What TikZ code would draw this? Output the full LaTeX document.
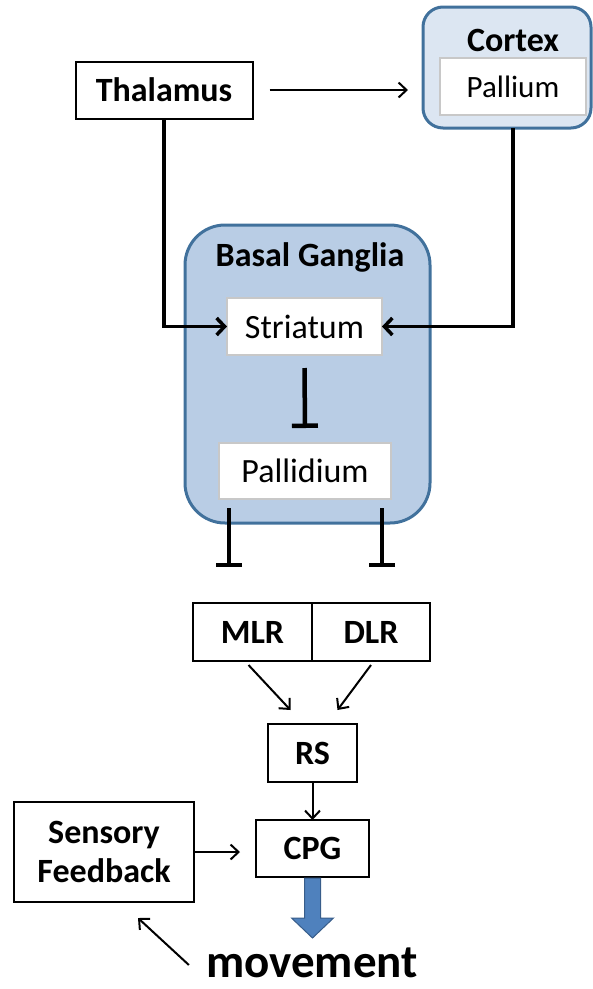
\documentclass[tikz,border=0pt]{standalone}
\usepackage{fontspec}
\setmainfont{Carlito}
\usetikzlibrary{arrows.meta,positioning,calc}

\definecolor{gangliafill}{RGB}{185,205,229}
\definecolor{cortexfill}{RGB}{220,230,242}
\definecolor{frameblue}{RGB}{65,113,156}
\definecolor{innergray}{RGB}{200,200,200}
\definecolor{moveblue}{RGB}{79,129,189}
\definecolor{moveedge}{RGB}{56,93,138}

\tikzset{
  labelfont/.style={font=\fontsize{34}{39}\selectfont\bfseries},
  plainbox/.style={draw, line width=2pt, fill=white, outer sep=0pt, inner sep=0pt, labelfont},
  regionbox/.style={draw=frameblue, line width=3pt, outer sep=0pt},
  innerbox/.style={draw=innergray, line width=1.5pt, fill=white, outer sep=0pt, inner sep=0pt, font=\fontsize{34}{39}\selectfont},
  excite/.style={line width=2pt, -{Straight Barb[length=8pt,width=15pt]}},
  feed/.style={line width=3.5pt, -{Straight Barb[length=8pt,width=17pt]}},
  inhib/.style={line width=4.5pt, -{Bar[width=26pt]}},
  bigarrow/.style={fill=moveblue, draw=moveedge, line width=1pt},
}

\begin{document}
\begin{tikzpicture}[x=1pt,y=-1pt]
\useasboundingbox (0,0) rectangle (593,989);

% top row
\node[plainbox, minimum width=177pt, minimum height=57pt] (thalamus) at (164,90) {Thalamus};
\node[regionbox, fill=cortexfill, rounded corners=20pt, minimum width=168pt, minimum height=121pt] (cortex) at (507,67.5) {};
\node[labelfont] (cortextitle) at (513,40) {Cortex};
\node[innerbox, minimum width=146pt, minimum height=57pt, font=\fontsize{31}{37}\selectfont] (pallium) at (513,86.5) {Pallium};

% basal ganglia
\node[regionbox, fill=gangliafill, rounded corners=40pt, minimum width=245pt, minimum height=298pt] (ganglia) at (307.5,374) {};
\node[labelfont] (gangliatitle) at (310,257) {Basal Ganglia};
\node[innerbox, minimum width=155pt, minimum height=57pt] (striatum) at (304.5,326.5) {Striatum};
\node[innerbox, minimum width=172pt, minimum height=56pt] (pallidium) at (305,471) {Pallidium};

% brainstem and spinal cord
\node[plainbox, minimum width=119pt, minimum height=58pt] (mlr) at (252.5,632) {MLR};
\node[plainbox, minimum width=118pt, minimum height=58pt, right=0pt of mlr] (dlr) {DLR};
\node[plainbox, minimum width=89pt, minimum height=58pt] (rs) at (312.5,753) {RS};
\node[plainbox, minimum width=113pt, minimum height=57pt] (cpg) at (312.5,848.5) {CPG};
\node[plainbox, minimum width=180pt, minimum height=100pt, align=center] (sensory) at (104,852) {Sensory\\Feedback};
\node[inner sep=0pt, font=\fontsize{47}{56}\selectfont\bfseries] (movement) at (312,963) {movement};

% connections
\draw[excite] ([xshift=17pt]thalamus.east) -- ([xshift=-15pt]thalamus.east -| cortex.west);
\draw[feed] (thalamus.south) |- (striatum.west);
\draw[feed] (pallium.center |- cortex.south) |- (striatum.east);
\draw[inhib] ([yshift=-13pt]striatum.south) -- ([yshift=15pt]pallidium.north);
\draw[inhib] ([xshift=10pt,yshift=-9pt]pallidium.south west) -- ++(0,59);
\draw[inhib] ([xshift=-9pt,yshift=-9pt]pallidium.south east) -- ++(0,59);
\draw[excite] ([xshift=-4pt,yshift=-4pt]mlr.south) -- ([xshift=-22pt,yshift=14pt]rs.north);
\draw[excite] ([yshift=-4pt]dlr.south) -- ([xshift=25pt,yshift=14pt]rs.north);
\draw[excite] (rs) -- (cpg);
\draw[excite] (sensory.east) -- ++(46,0);
\draw[excite] ([xshift=-17pt,yshift=-2pt]movement.west) -- ([xshift=34pt,yshift=-16pt]sensory.south);

% output arrow
\draw[bigarrow] ([xshift=-8pt,yshift=-1pt]cpg.south) -- ++(0,40) -- ++(-13,0) -- ++(21,20) -- ++(21,-20) -- ++(-13,0) -- ++(0,-40) -- cycle;
\end{tikzpicture}
\end{document}
